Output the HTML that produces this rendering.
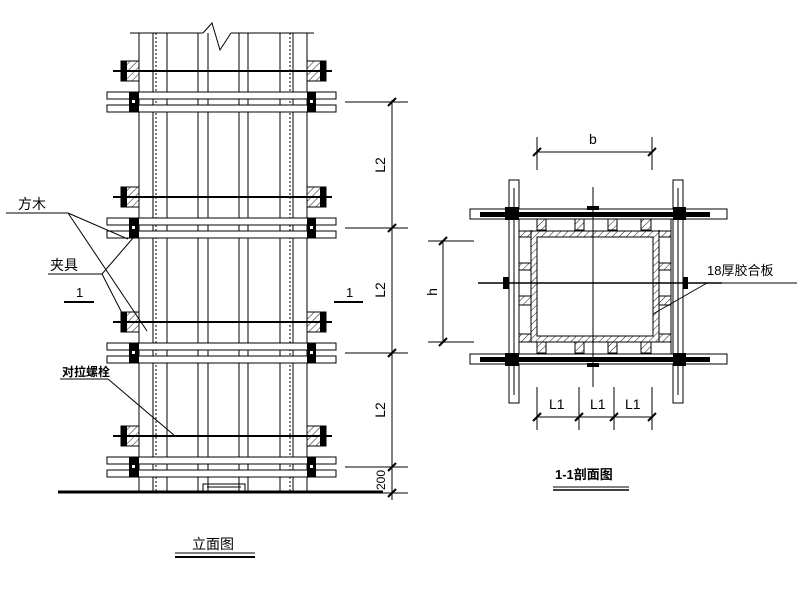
<!DOCTYPE html>
<html><head><meta charset="utf-8"><style>
html,body{margin:0;padding:0;background:#fff;}
svg{display:block;}
text{font-family:"Liberation Sans","Noto Sans CJK SC",sans-serif;fill:#000;}
</style></head><body>
<svg width="800" height="595" viewBox="0 0 800 595" xmlns="http://www.w3.org/2000/svg">
<defs>
<pattern id="h" width="5" height="5" patternUnits="userSpaceOnUse" patternTransform="rotate(45)">
<line x1="0" y1="0" x2="0" y2="5" stroke="#000" stroke-width="0.9"/>
</pattern>
<g id="boltrow">
  <line x1="113" y1="0" x2="332" y2="0" stroke="#000" stroke-width="2"/>
  <rect x="121" y="-10" width="18" height="20" fill="url(#h)" stroke="#000"/>
  <rect x="121" y="-10" width="6" height="20" fill="#000"/>
  <rect x="307" y="-10" width="19" height="20" fill="url(#h)" stroke="#000"/>
  <rect x="320" y="-10" width="6" height="20" fill="#000"/>
</g>
<g id="bars">
  <rect x="107" y="0" width="229" height="7" fill="#fff" stroke="#000"/>
  <rect x="107" y="13" width="229" height="7" fill="#fff" stroke="#000"/>
  <rect x="129" y="0" width="10" height="20" fill="#000"/>
  <rect x="307" y="0" width="9" height="20" fill="#000"/>
  <rect x="132" y="8" width="3" height="3" fill="#fff"/>
  <rect x="310" y="8" width="3" height="3" fill="#fff"/>
</g>
</defs>

<g stroke="#000" stroke-width="1" fill="none">
  <line x1="130" y1="33" x2="203" y2="33"/>
  <polyline points="203,33 212,23 220,50 231,33"/>
  <line x1="231" y1="33" x2="314" y2="33"/>
  <line x1="139" y1="33" x2="139" y2="492"/>
  <line x1="167" y1="33" x2="167" y2="492"/>
  <line x1="198" y1="33" x2="198" y2="492"/>
  <line x1="208" y1="33" x2="208" y2="492"/>
  <line x1="239" y1="33" x2="239" y2="492"/>
  <line x1="248" y1="33" x2="248" y2="492"/>
  <line x1="280" y1="33" x2="280" y2="492"/>
  <line x1="307" y1="33" x2="307" y2="492"/>
  <line x1="153" y1="33" x2="153" y2="492"/>
  <line x1="156" y1="33" x2="156" y2="492" stroke-dasharray="2,2"/>
  <line x1="290" y1="33" x2="290" y2="492" stroke-dasharray="2,2"/>
  <line x1="293" y1="33" x2="293" y2="492"/>
</g>
<use href="#boltrow" y="71"/>
<use href="#boltrow" y="197"/>
<use href="#boltrow" y="322"/>
<use href="#boltrow" y="436"/>
<use href="#bars" y="92"/>
<use href="#bars" y="218"/>
<use href="#bars" y="343"/>
<use href="#bars" y="457"/>
<line x1="58" y1="492" x2="383" y2="492" stroke="#000" stroke-width="3"/>
<rect x="203" y="484" width="42" height="8" fill="none" stroke="#000"/>
<line x1="207" y1="487" x2="241" y2="487" stroke="#000"/>

<g stroke="#000" stroke-width="1">
  <line x1="392" y1="100" x2="392" y2="500"/>
  <line x1="345" y1="102" x2="408" y2="102"/>
  <line x1="345" y1="228" x2="408" y2="228"/>
  <line x1="345" y1="353" x2="408" y2="353"/>
  <line x1="345" y1="467" x2="408" y2="467"/>
  <line x1="383" y1="493" x2="408" y2="493"/>
  <line x1="388" y1="106" x2="396" y2="98" stroke-width="2"/>
  <line x1="388" y1="232" x2="396" y2="224" stroke-width="2"/>
  <line x1="388" y1="357" x2="396" y2="349" stroke-width="2"/>
  <line x1="388" y1="471" x2="396" y2="463" stroke-width="2"/>
  <line x1="388" y1="497" x2="396" y2="489" stroke-width="2"/>
</g>
<g font-size="14">
  <text transform="translate(385,165) rotate(-90)" text-anchor="middle">L2</text>
  <text transform="translate(385,290) rotate(-90)" text-anchor="middle">L2</text>
  <text transform="translate(385,410) rotate(-90)" text-anchor="middle">L2</text>
  <text transform="translate(385,480) rotate(-90)" text-anchor="middle" font-size="12">200</text>
</g>

<g stroke="#000" stroke-width="1" fill="none">
  <line x1="6" y1="213" x2="68" y2="213"/>
  <line x1="68" y1="213" x2="128" y2="239"/>
  <line x1="68" y1="213" x2="147" y2="331"/>
  <line x1="48" y1="274" x2="102" y2="274"/>
  <line x1="102" y1="274" x2="133" y2="238"/>
  <line x1="102" y1="274" x2="122" y2="313"/>
  <line x1="64" y1="302" x2="94" y2="302" stroke-width="2"/>
  <line x1="334" y1="302" x2="363" y2="302" stroke-width="2"/>
  <line x1="60" y1="379" x2="108" y2="379"/>
  <line x1="108" y1="379" x2="175" y2="436"/>
  <line x1="175" y1="553" x2="255" y2="553"/>
  <line x1="175" y1="557" x2="255" y2="557" stroke-width="2"/>
</g>
<text x="18" y="209" font-size="14">方木</text>
<text x="50" y="270" font-size="14">夹具</text>
<text x="76" y="297" font-size="13" fill="#00008b">1</text>
<text x="346" y="297" font-size="13" fill="#00008b">1</text>
<text x="62" y="376" font-size="12" font-weight="bold">对拉螺栓</text>
<text x="192" y="549" font-size="14">立面图</text>

<g stroke="#000" stroke-width="1" fill="none">
  <rect x="509" y="180" width="10" height="223" fill="#fff"/>
  <rect x="673" y="180" width="10" height="223" fill="#fff"/>
  <line x1="514" y1="188" x2="514" y2="395"/>
  <line x1="678" y1="188" x2="678" y2="395"/>
  <line x1="519" y1="219" x2="519" y2="354"/>
  <line x1="531" y1="230" x2="531" y2="342"/>
  <line x1="659" y1="230" x2="659" y2="342"/>
  <line x1="671" y1="219" x2="671" y2="354"/>
  <rect x="470" y="209" width="257" height="10" fill="#fff"/>
  <rect x="470" y="354" width="257" height="10" fill="#fff"/>
  <path d="M531,231 H659 V342 H531 Z M537,237 V336 H653 V237 Z" fill="url(#h)" fill-rule="evenodd"/>
  <rect x="537" y="219" width="9" height="11" fill="url(#h)"/>
  <rect x="575" y="219" width="9" height="11" fill="url(#h)"/>
  <rect x="608" y="219" width="9" height="11" fill="url(#h)"/>
  <rect x="641" y="219" width="10" height="11" fill="url(#h)"/>
  <rect x="537" y="342" width="9" height="11" fill="url(#h)"/>
  <rect x="575" y="342" width="9" height="11" fill="url(#h)"/>
  <rect x="608" y="342" width="9" height="11" fill="url(#h)"/>
  <rect x="641" y="342" width="10" height="11" fill="url(#h)"/>
  <rect x="519" y="231" width="12" height="6" fill="url(#h)"/>
  <rect x="519" y="263" width="12" height="7" fill="url(#h)"/>
  <rect x="519" y="296" width="12" height="9" fill="url(#h)"/>
  <rect x="519" y="334" width="12" height="8" fill="url(#h)"/>
  <rect x="659" y="231" width="12" height="6" fill="url(#h)"/>
  <rect x="659" y="263" width="12" height="7" fill="url(#h)"/>
  <rect x="659" y="296" width="12" height="9" fill="url(#h)"/>
  <rect x="659" y="334" width="12" height="8" fill="url(#h)"/>
  <line x1="593" y1="187" x2="593" y2="387"/>
  <line x1="478" y1="283" x2="722" y2="283" stroke-width="1.5"/>
</g>
<g fill="#000">
  <rect x="480" y="212" width="230" height="5"/>
  <rect x="480" y="357" width="230" height="5"/>
  <rect x="505" y="207" width="14" height="13"/>
  <rect x="673" y="207" width="13" height="13"/>
  <rect x="505" y="353" width="14" height="13"/>
  <rect x="673" y="353" width="13" height="13"/>
  <rect x="587" y="206" width="12" height="4"/>
  <rect x="587" y="363" width="12" height="4"/>
  <rect x="503" y="277" width="6" height="12"/>
  <rect x="683" y="277" width="5" height="12"/>
</g>
<g stroke="#000" stroke-width="1" fill="none">
  <line x1="537" y1="137" x2="537" y2="170"/>
  <line x1="652" y1="137" x2="652" y2="170"/>
  <line x1="537" y1="152" x2="652" y2="152"/>
  <line x1="533" y1="156" x2="541" y2="148" stroke-width="2"/>
  <line x1="648" y1="156" x2="656" y2="148" stroke-width="2"/>
  <line x1="428" y1="241" x2="474" y2="241"/>
  <line x1="428" y1="342" x2="474" y2="342"/>
  <line x1="443" y1="241" x2="443" y2="342"/>
  <line x1="439" y1="245" x2="447" y2="237" stroke-width="2"/>
  <line x1="439" y1="346" x2="447" y2="338" stroke-width="2"/>
  <line x1="537" y1="387" x2="537" y2="430"/>
  <line x1="579" y1="387" x2="579" y2="430"/>
  <line x1="614" y1="387" x2="614" y2="430"/>
  <line x1="652" y1="387" x2="652" y2="430"/>
  <line x1="537" y1="417" x2="652" y2="417"/>
  <line x1="533" y1="421" x2="541" y2="413" stroke-width="2"/>
  <line x1="575" y1="421" x2="583" y2="413" stroke-width="2"/>
  <line x1="610" y1="421" x2="618" y2="413" stroke-width="2"/>
  <line x1="648" y1="421" x2="656" y2="413" stroke-width="2"/>
  <line x1="707" y1="283" x2="797" y2="283"/>
  <line x1="707" y1="283" x2="653" y2="314"/>
  <line x1="553" y1="487" x2="629" y2="487"/>
  <line x1="553" y1="490" x2="629" y2="490" stroke-width="1.5"/>
</g>
<text x="589" y="144" font-size="14">b</text>
<text transform="translate(437,292) rotate(-90)" text-anchor="middle" font-size="14">h</text>
<text x="549" y="409" font-size="14">L1</text>
<text x="590" y="409" font-size="14">L1</text>
<text x="625" y="409" font-size="14">L1</text>
<text x="707" y="275" font-size="13">18厚胶合板</text>
<text x="555" y="479" font-size="13" font-weight="bold">1-1剖面图</text>
</svg>
</body></html>
